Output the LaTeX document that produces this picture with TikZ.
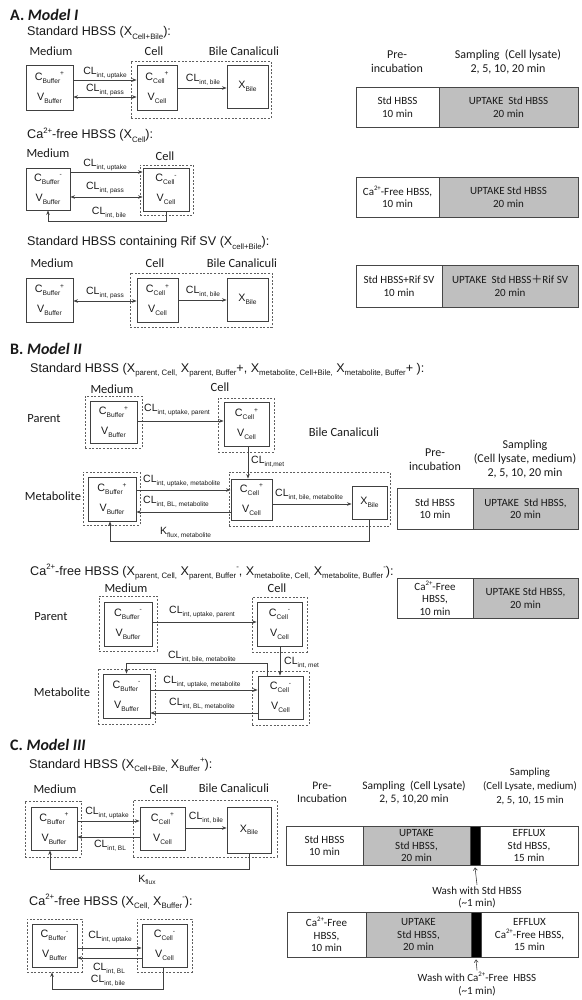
\documentclass[tikz,border=0pt]{standalone}
\usepackage{fontspec}
\setmainfont{Liberation Sans}
\newfontfamily\cfont{Carlito}
\newfontfamily\cjkfont{Noto Sans CJK SC}
\usetikzlibrary{arrows.meta}
\definecolor{lc}{RGB}{64,64,64}
\definecolor{dc}{RGB}{95,95,95}
\definecolor{tcl}{RGB}{70,70,70}
\definecolor{tg}{RGB}{191,191,191}
\definecolor{txc}{RGB}{25,25,25}
\makeatletter
\newdimen\sdim
\newcommand\sbx[1]{\sdim=\f@size pt\sdim=0.62\sdim\raisebox{-0.25em}{\fontsize{\sdim}{\sdim}\selectfont #1}}
\newcommand\spx[1]{\sdim=\f@size pt\sdim=0.62\sdim\raisebox{0.45em}{\fontsize{\sdim}{\sdim}\selectfont #1}}
\makeatother
\begin{document}
\begin{tikzpicture}[x=1pt,y=-1pt,color=txc,
 bx/.style={draw=lc,line width=0.9pt,inner sep=0pt,align=center,font=\fontsize{10.7}{20}\selectfont},
 db/.style={draw=dc,line width=0.7pt,dash pattern=on 2pt off 1.6pt,inner sep=0pt},
 ar/.style={draw=lc,line width=0.9pt,-{Stealth[length=4.5pt,width=3.6pt]}},
 dar/.style={draw=lc,line width=0.9pt,{Stealth[length=4.5pt,width=3.6pt]}-{Stealth[length=4.5pt,width=3.6pt]}},
 uar/.style={draw=lc,line width=0.6pt,-{Straight Barb[length=2.5pt,width=4pt]}},
 lab/.style={inner sep=0pt,font=\fontsize{10.5}{12}\selectfont},
 labw/.style={lab,anchor=west},
 hd/.style={anchor=west,inner sep=0pt,font=\cfont\fontsize{16}{18}\selectfont\bfseries},
 tt/.style={anchor=west,inner sep=0pt,font=\fontsize{12.6}{14}\selectfont},
 cl/.style={inner sep=0pt,font=\cfont\fontsize{12.5}{14}\selectfont},
 tx/.style={inner sep=0pt,align=center,font=\cfont\fontsize{12}{14}\selectfont},
 cellb/.style={draw=tcl,line width=0.9pt,inner sep=0pt,align=center,font=\cfont\fontsize{11}{12.5}\selectfont},
 cw/.style={cellb,fill=white},
 cg/.style={cellb,fill=tg},
 ck/.style={cellb,fill=black},
 wh/.style 2 args={minimum width=#1pt,minimum height=#2pt},
]
\useasboundingbox (0,0) rectangle (581,1000);

% ================= A =================
\node[hd] (hA) at (10,15) {A. \textit{Model I}};
% A1
\node[tt] (tA1) at (27,33) {Standard HBSS (X\sbx{Cell+Bile}):};
\node[cl] (mA1) at (51,51) {Medium};
\node[cl] (cA1) at (154,51) {Cell};
\node[cl] (bA1) at (244,51) {Bile Canaliculi};
\node[db,wh={140}{57}] (dA1) at (201,89.5) {};
\node[bx,wh={47}{45}] (bufA1) at (49.5,87.5) {C\sbx{Buffer}\spx{+}\\V\sbx{Buffer}};
\node[bx,wh={40}{45}] (celA1) at (157,87.5) {C\sbx{Cell}\spx{+}\\V\sbx{Cell}};
\node[bx,wh={41}{43}] (bilA1) at (247.5,86.5) {X\sbx{Bile}};
\draw[ar] (bufA1.east |- 0,80) -- (celA1.west |- 0,80);
\draw[dar] (bufA1.east |- 0,97) -- (celA1.west |- 0,97);
\draw[ar] (celA1.east |- 0,88) -- (bilA1.west |- 0,88);
\node[lab] (lA1a) at (105,73) {CL\sbx{int, uptake}};
\node[lab] (lA1b) at (105,90) {CL\sbx{int, pass}};
\node[lab] (lA1c) at (203,80) {CL\sbx{int, bile}};
% A2
\node[tt] (tA2) at (27,135) {Ca\spx{2+}-free HBSS (X\sbx{Cell}):};
\node[cl] (mA2) at (48,153) {Medium};
\node[cl] (cA2) at (165,156) {Cell};
\node[db,wh={53}{50}] (dA2) at (166.5,190) {};
\node[bx,wh={44}{42}] (bufA2) at (48,189) {C\sbx{Buffer}\spx{-}\\V\sbx{Buffer}};
\node[bx,wh={46}{43}] (celA2) at (166,189.5) {C\sbx{Cell}\spx{-}\\V\sbx{Cell}};
\draw[ar] (bufA2.east |- 0,172) -- (celA2.west |- 0,172);
\draw[dar] (bufA2.east |- 0,197) -- (celA2.west |- 0,197);
\draw[ar] (celA2.south) -- ++(0,10) -| (bufA2.south);
\node[lab] (lA2a) at (105,165) {CL\sbx{int, uptake}};
\node[lab] (lA2b) at (105,188) {CL\sbx{int, pass}};
\node[lab] (lA2c) at (109,213) {CL\sbx{int, bile}};
% A3
\node[tt] (tA3) at (27,243) {Standard HBSS containing Rif SV (X\sbx{cell+Bile}):};
\node[cl] (mA3) at (52,263) {Medium};
\node[cl] (cA3) at (155,263) {Cell};
\node[cl] (bA3) at (242,263) {Bile Canaliculi};
\node[db,wh={142}{54}] (dA3) at (201,300) {};
\node[bx,wh={47}{44}] (bufA3) at (49.5,300) {C\sbx{Buffer}\spx{+}\\V\sbx{Buffer}};
\node[bx,wh={41}{44}] (celA3) at (157.5,300) {C\sbx{Cell}\spx{+}\\V\sbx{Cell}};
\node[bx,wh={41}{43}] (bilA3) at (247.5,299.5) {X\sbx{Bile}};
\draw[dar] (bufA3.east |- 0,301) -- (celA3.west |- 0,301);
\draw[ar] (celA3.east |- 0,300) -- (bilA3.west |- 0,300);
\node[lab] (lA3a) at (105,293) {CL\sbx{int, pass}};
\node[lab] (lA3b) at (203,292) {CL\sbx{int, bile}};
% A tables
\node[tx] (phA) at (397,62) {Pre-\\incubation};
\node[tx] (shA) at (508,62) {Sampling\ \ (Cell lysate)\\2, 5, 10, 20 min};
\node[cw,wh={83}{40}] (tA1w) at (397.5,107) {Std HBSS\\10 min};
\node[cg,wh={139}{40}] (tA1g) at (508.5,107) {UPTAKE\ \ Std HBSS\\20 min};
\node[cw,wh={83}{40}] (tA2w) at (397.5,197) {Ca\spx{2+}-Free HBSS,\\10 min};
\node[cg,wh={139}{40}] (tA2g) at (508.5,197) {UPTAKE Std HBSS\\20 min};
\node[cw,wh={86}{42}] (tA3w) at (399,286) {Std HBSS+Rif SV\\10 min};
\node[cg,wh={136}{42}] (tA3g) at (510,286) {UPTAKE\ \ Std HBSS{\cjkfont ＋}Rif SV\\20 min};

% ================= B =================
\node[hd] (hB) at (10,349) {B. \textit{Model II}};
\node[tt] (tB1) at (30,370) {Standard HBSS (X\sbx{parent, Cell,} X\sbx{parent, Buffer}+, X\sbx{metabolite, Cell+Bile,} X\sbx{metabolite, Buffer}+ ):};
\node[cl] (mB1) at (112,389) {Medium};
\node[cl] (cB1) at (220,387) {Cell};
\node[cl] (pB1) at (44,419) {Parent};
\node[cl] (bB1) at (344,432) {Bile Canaliculi};
\node[cl] (meB1) at (53,496) {Metabolite};
\node[db,wh={57}{52}] (pmedB1) at (113.5,422) {};
\node[bx,wh={47}{42}] (pbufB1) at (113.5,422) {C\sbx{Buffer}\spx{+}\\V\sbx{Buffer}};
\node[db,wh={56}{54}] (pceldB1) at (246,425) {};
\node[bx,wh={45}{44}] (pcelB1) at (246.5,424) {C\sbx{Cell}\spx{+}\\V\sbx{Cell}};
\node[db,wh={57}{53}] (mmedB1) at (111.5,498.5) {};
\node[bx,wh={48}{44}] (mbufB1) at (112,499) {C\sbx{Buffer}\spx{+}\\V\sbx{Buffer}};
\node[db,wh={161}{54}] (mcbB1) at (309.5,499) {};
\node[bx,wh={41}{41}] (mcelB1) at (251.5,499.5) {C\sbx{Cell}\spx{+}\\V\sbx{Cell}};
\node[bx,wh={35}{33}] (mbilB1) at (369.5,502.5) {X\sbx{Bile}};
\draw[ar] (pbufB1.east |- 0,421) -- (pcelB1.west |- 0,421);
\draw[ar] (pcelB1.south -| 248,0) -- (mcelB1.north -| 248,0);
\draw[ar] (mbufB1.east |- 0,490) -- (mcelB1.west |- 0,490);
\draw[ar] (mcelB1.west |- 0,512) -- (mbufB1.east |- 0,512);
\draw[ar] (mcelB1.east |- 0,504) -- (mbilB1.west |- 0,504);
\draw[ar] (mbilB1.south) -- ++(0,22) -| ([xshift=-2pt]mbufB1.south);
\node[labw] (lB1a) at (144,410) {CL\sbx{int, uptake, parent}};
\node[labw] (lB1b) at (251,462) {CL\sbx{int,met}};
\node[labw] (lB1c) at (143,481) {CL\sbx{int, uptake, metabolite}};
\node[labw] (lB1d) at (143,502) {CL\sbx{int, BL, metabolite}};
\node[labw] (lB1e) at (275,495) {CL\sbx{int, bile, metabolite}};
\node[labw] (lB1f) at (160,533) {K\sbx{flux, metabolite}};
% B tables
\node[tx] (phB) at (435,460) {Pre-\\incubation};
\node[tx] (shB) at (525,459) {Sampling\\(Cell lysate, medium)\\2, 5, 10, 20 min};
\node[cw,wh={76}{41}] (tB1w) at (435,508.5) {Std HBSS\\10 min};
\node[cg,wh={105}{41}] (tB1g) at (525.5,508.5) {UPTAKE\ \ Std HBSS,\\20 min};
\node[cw,wh={76}{40}] (tB2w) at (435,598) {Ca\spx{2+}-Free\\HBSS,\\10 min};
\node[cg,wh={105}{40}] (tB2g) at (525.5,598) {UPTAKE Std HBSS,\\20 min};
% B2
\node[tt] (tB2) at (30,572) {Ca\spx{2+}-free HBSS (X\sbx{parent, Cell,} X\sbx{parent, Buffer}\spx{-}, X\sbx{metabolite, Cell,} X\sbx{metabolite, Buffer}\spx{-}):};
\node[cl] (mB2) at (126,588) {Medium};
\node[cl] (cB2) at (277,588) {Cell};
\node[cl] (pB2) at (51,617) {Parent};
\node[cl] (meB2) at (62,692) {Metabolite};
\node[db,wh={58}{55}] (pmedB2) at (128,623.5) {};
\node[bx,wh={48}{44}] (pbufB2) at (128,624) {C\sbx{Buffer}\spx{-}\\V\sbx{Buffer}};
\node[db,wh={55}{55}] (pceldB2) at (279.5,624.5) {};
\node[bx,wh={45}{44}] (pcelB2) at (279.5,624) {C\sbx{Cell}\spx{-}\\V\sbx{Cell}};
\node[db,wh={57}{55}] (mmedB2) at (126.5,696.5) {};
\node[bx,wh={47}{44}] (mbufB2) at (126.5,696) {C\sbx{Buffer}\spx{-}\\V\sbx{Buffer}};
\node[db,wh={57}{54}] (mceldB2) at (280.5,698) {};
\node[bx,wh={45}{43}] (mcelB2) at (280.5,697.5) {C\sbx{Cell}\spx{-}\\V\sbx{Cell}};
\draw[ar] (pbufB2.east |- 0,622) -- (pcelB2.west |- 0,622);
\draw[ar] (pcelB2.south -| 280,0) -- (mcelB2.north -| 280,0);
\draw[ar] ([xshift=-13.5pt]mcelB2.north) -- ++(0,-12) -| (mbufB2.north);
\draw[ar] (mbufB2.east |- 0,690) -- (mcelB2.west |- 0,690);
\draw[ar] (mcelB2.west |- 0,713) -- (mbufB2.east |- 0,713);
\node[lab] (lB2a) at (202,612) {CL\sbx{int, uptake, parent}};
\node[labw] (lB2b) at (284,663) {CL\sbx{int, met}};
\node[lab] (lB2c) at (202,657) {CL\sbx{int, bile, metabolite}};
\node[lab] (lB2d) at (202,682) {CL\sbx{int, uptake, metabolite}};
\node[lab] (lB2e) at (202,704) {CL\sbx{int, BL, metabolite}};

% ================= C =================
\node[hd] (hC) at (10,745) {C. \textit{Model III}};
\node[tt] (tC1) at (29,765) {Standard HBSS (X\sbx{Cell+Bile,} X\sbx{Buffer}\spx{+}):};
\node[cl] (mC1) at (55,789) {Medium};
\node[cl] (cC1) at (159,789) {Cell};
\node[cl] (bC1) at (234,788) {Bile Canaliculi};
\node[db,wh={56}{56}] (cmedC1) at (53,829) {};
\node[bx,wh={46}{43}] (cbufC1) at (54,828.5) {C\sbx{Buffer}\spx{+}\\V\sbx{Buffer}};
\node[db,wh={144}{57}] (ccbC1) at (205,828.5) {};
\node[bx,wh={45}{43}] (ccelC1) at (162.5,828.5) {C\sbx{Cell}\spx{+}\\V\sbx{Cell}};
\node[bx,wh={44}{46}] (cbilC1) at (249,830) {X\sbx{Bile}};
\draw[ar] (cbufC1.east |- 0,821) -- (ccelC1.west |- 0,821);
\draw[ar] (ccelC1.west |- 0,837) -- (cbufC1.east |- 0,837);
\draw[ar] (ccelC1.east |- 0,828) -- (cbilC1.west |- 0,828);
\draw[ar] (cbilC1.south) -- ++(0,16) -| ([xshift=-4pt]cbufC1.south);
\node[lab] (lC1a) at (107,813) {CL\sbx{int, uptake}};
\node[lab] (lC1b) at (110,846) {CL\sbx{int, BL}};
\node[lab] (lC1c) at (206,818) {CL\sbx{int, bile}};
\node[lab] (lC1d) at (147,880) {K\sbx{flux}};
% C2
\node[tt] (tC2) at (29,902) {Ca\spx{2+}-free HBSS (X\sbx{Cell,} X\sbx{Buffer}\spx{-}):};
\node[db,wh={55}{53}] (cmedC2) at (54.5,945.5) {};
\node[bx,wh={45}{43}] (cbufC2) at (54.5,945.5) {C\sbx{Buffer}\spx{-}\\V\sbx{Buffer}};
\node[db,wh={55}{53}] (cceldC2) at (164.5,945.5) {};
\node[bx,wh={45}{43}] (ccelC2) at (164.5,945.5) {C\sbx{Cell}\spx{-}\\V\sbx{Cell}};
\draw[ar] (cbufC2.east |- 0,948) -- (ccelC2.west |- 0,948);
\draw[ar] (ccelC2.west |- 0,958) -- (cbufC2.east |- 0,958);
\draw[ar] ([xshift=-1.5pt]ccelC2.south) -- ++(0,22) -| ([xshift=-2.5pt]cmedC2.south);
\node[lab] (lC2a) at (110,937) {CL\sbx{int, uptake}};
\node[lab] (lC2b) at (109,969) {CL\sbx{int, BL}};
\node[lab] (lC2c) at (108,981) {CL\sbx{int, bile}};
% C tables
\node[tx,font=\cfont\fontsize{11.5}{13}\selectfont] (phC) at (322,792.5) {Pre-\\Incubation};
\node[tx,font=\cfont\fontsize{11.5}{13}\selectfont] (shC1) at (414,792.5) {Sampling\ \ (Cell Lysate)\\2, 5, 10,20 min};
\node[tx,font=\cfont\fontsize{10.8}{14}\selectfont] (shC2) at (530,786) {Sampling\\(Cell Lysate, medium)\\2, 5, 10, 15 min};
\node[cw,wh={77}{39}] (tC1w) at (324.5,845.5) {Std HBSS\\10 min};
\node[cg,wh={107}{39}] (tC1g) at (416.5,845.5) {UPTAKE\\Std HBSS,\\20 min};
\node[ck,wh={10}{39}] (tC1k) at (475,845.5) {};
\node[cw,wh={98}{39}] (tC1e) at (529,845.5) {EFFLUX\\Std HBSS,\\15 min};
\node[tx,font=\cfont\fontsize{11}{12}\selectfont] (wC1) at (477,897.5) {Wash with Std HBSS\\(\textasciitilde1 min)};
\draw[uar] ([yshift=2pt]wC1.north) -- ([yshift=-2pt]tC1k.south);
\node[cw,wh={79}{45}] (tC2w) at (326.5,934.5) {Ca\spx{2+}-Free\\HBSS,\\10 min};
\node[cg,wh={105}{45}] (tC2g) at (418.5,934.5) {UPTAKE\\Std HBSS,\\20 min};
\node[ck,wh={10}{45}] (tC2k) at (476,934.5) {};
\node[cw,wh={97}{45}] (tC2e) at (529.5,934.5) {EFFLUX\\Ca\spx{2+}-Free HBSS,\\15 min};
\node[tx,font=\cfont\fontsize{11}{13}\selectfont] (wC2) at (477,984.5) {Wash with Ca\spx{2+}-Free\ \ HBSS\\(\textasciitilde1 min)};
\draw[uar] ([yshift=2pt]wC2.north) -- ([yshift=-2pt]tC2k.south);
\end{tikzpicture}
\end{document}
